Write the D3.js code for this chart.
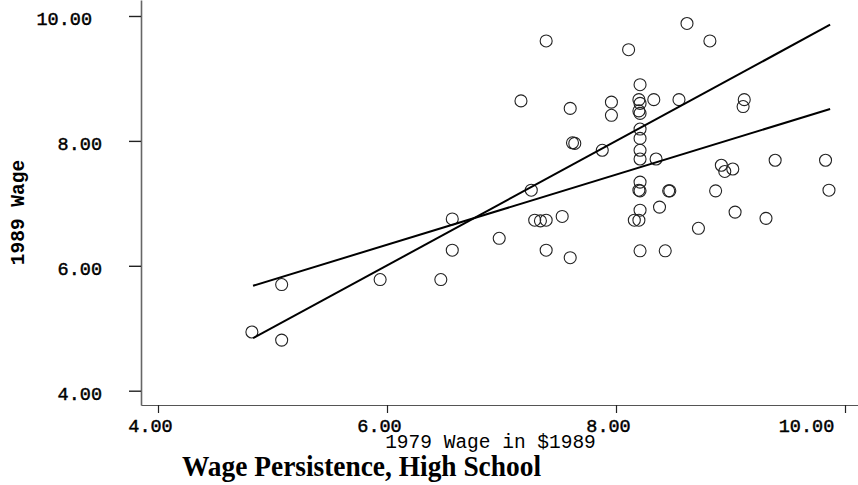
<!DOCTYPE html>
<html>
<head>
<meta charset="utf-8">
<script src="https://cdn.jsdelivr.net/npm/d3@7"></script>
<style>
  html, body { margin: 0; padding: 0; background: #fff; }
  svg { display: block; }
</style>
</head>
<body>
<svg id="chart" width="858" height="485"></svg>
<script>
// 1979 wage (x) and 1989 wage (y), high school sample
const wage1979 = [4.82, 5.08, 5.08, 5.94, 6.47, 6.57, 6.57, 6.98, 7.17, 7.26,
  7.29, 7.34, 7.39, 7.39, 7.39, 7.53, 7.60, 7.60, 7.62, 7.64,
  7.88, 7.96, 7.96, 8.11, 8.21, 8.20, 8.21, 8.20, 8.21, 8.21,
  8.21, 8.21, 8.21, 8.21, 8.20, 8.21, 8.21, 8.16, 8.20, 8.21,
  8.33, 8.35, 8.38, 8.43, 8.46, 8.47, 8.55, 8.62, 8.72, 8.82,
  8.87, 8.92, 8.95, 9.02, 9.04, 9.11, 9.12, 9.31, 9.39, 9.83, 9.86];
const wage1989 = [4.94, 4.81, 5.70, 5.78, 5.78, 6.75, 6.25, 6.44, 8.64, 7.21,
  6.73, 6.72, 6.73, 9.60, 6.25, 6.79, 6.13, 8.52, 7.97, 7.96,
  7.85, 8.62, 8.41, 9.46, 8.90, 8.66, 8.60, 8.48, 8.44, 8.19,
  8.04, 7.85, 7.71, 7.34, 7.21, 7.20, 6.89, 6.73, 6.73, 6.24,
  8.66, 7.71, 6.94, 6.24, 7.20, 7.20, 8.66, 9.88, 6.60, 9.60,
  7.20, 7.61, 7.51, 7.55, 6.86, 8.55, 8.66, 6.76, 7.69, 7.69, 7.21];

// Two fitted lines drawn over the range of 1979 wages
const lineX = [4.83, 9.87];
const lineSteepY = [4.84, 9.86];   // 45-degree reference (y = x)
const lineFlatY = [5.68, 8.51];    // fitted regression line

const xTicks = [4, 6, 8, 10];
const yTicks = [4, 6, 8, 10];
const xTitle = "1979 Wage in $1989";
const yTitle = "1989 Wage";
const chartTitle = "Wage Persistence, High School";

const svg = d3.select("#chart");

const x = d3.scaleLinear().domain([3.8515, 10.1135]).range([141, 858]);
const y = d3.scaleLinear().domain([3.771, 10.256]).range([405, 0]);
const fmt = d3.format(".2f");
const mono = "'Liberation Mono', 'Courier New', monospace";

// Y axis
const gy = svg.append("g")
  .attr("transform", "translate(141,0)")
  .call(d3.axisLeft(y).tickValues(yTicks).tickFormat(fmt).tickSize(12).tickSizeOuter(0).tickPadding(27));
gy.select(".domain").attr("stroke", "#666").attr("stroke-width", 1.6);
gy.selectAll(".tick line").attr("stroke", "#222").attr("stroke-width", 1.4);
gy.selectAll(".tick text")
  .attr("font-family", mono).attr("font-size", 18.5).attr("fill", "#000")
  .attr("stroke", "#000").attr("stroke-width", 0.45)
  .attr("dy", 9)
  .attr("dx", d => d >= 10 ? -10 : 0);

// X axis
const gx = svg.append("g")
  .attr("transform", "translate(0,405)")
  .call(d3.axisBottom(x).tickValues(xTicks).tickFormat(fmt).tickSize(8).tickSizeOuter(0));
gx.select(".domain").attr("stroke", "#555").attr("stroke-width", 1.2);
gx.selectAll(".tick line").attr("stroke", "#222").attr("stroke-width", 1.2);
gx.selectAll(".tick text")
  .attr("font-family", mono).attr("font-size", 18.5).attr("fill", "#000")
  .attr("stroke", "#000").attr("stroke-width", 0.45)
  .attr("y", 27).attr("dy", 0)
  .attr("dx", d => d >= 10 ? -39 : -8);

// Points
const pts = wage1979.map((v, i) => ({ x: v, y: wage1989[i] }));
svg.append("g").selectAll("circle").data(pts).join("circle")
  .attr("cx", d => x(d.x)).attr("cy", d => y(d.y)).attr("r", 6)
  .attr("fill", "none").attr("stroke", "#222").attr("stroke-width", 1.1);

// Lines
const line = d3.line().x(d => x(d[0])).y(d => y(d[1]));
[lineSteepY, lineFlatY].forEach(ys => {
  svg.append("path")
    .datum(lineX.map((v, i) => [v, ys[i]]))
    .attr("d", line).attr("fill", "none").attr("stroke", "#000").attr("stroke-width", 2);
});

// Titles
svg.append("text").text(xTitle)
  .attr("x", 490.5).attr("y", 448).attr("text-anchor", "middle")
  .attr("font-family", mono).attr("font-size", 19.5).attr("fill", "#000");

svg.append("text").text(yTitle)
  .attr("transform", "translate(24,212.5) rotate(-90)").attr("text-anchor", "middle")
  .attr("font-family", mono).attr("font-size", 19.5).attr("font-weight", "bold").attr("fill", "#000");

svg.append("text").text(chartTitle)
  .attr("x", 182).attr("y", 476)
  .attr("font-family", "'Liberation Serif', 'Times New Roman', serif")
  .attr("font-size", 30).attr("font-weight", "bold").attr("fill", "#000")
  .attr("textLength", 359).attr("lengthAdjust", "spacingAndGlyphs");
</script>
</body>
</html>
